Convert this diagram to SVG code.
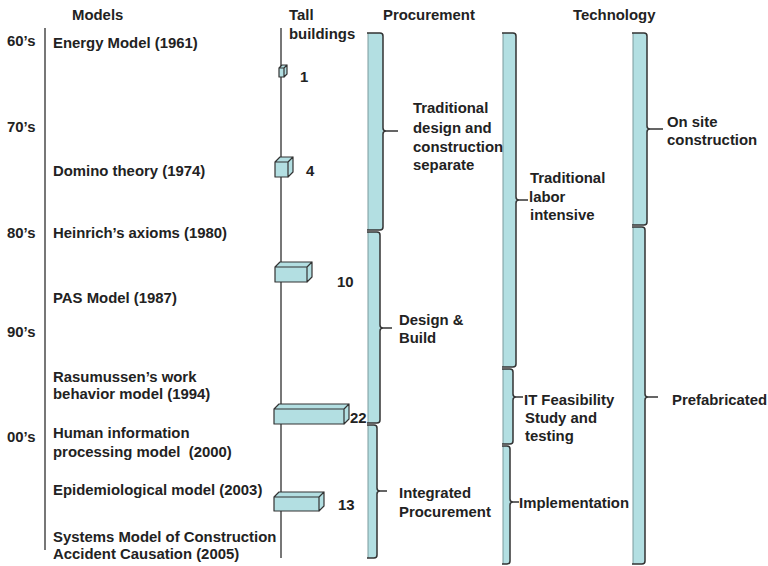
<svg xmlns="http://www.w3.org/2000/svg" width="768" height="566" viewBox="0 0 768 566">
<style>
text{font-family:"Liberation Sans",Arial,sans-serif;font-weight:bold;font-size:14.9px;fill:#222}
.axis{stroke:#555;stroke-width:1.6;fill:none}
.fill{fill:#b3dfe2;stroke:none}
.edge{stroke:#7a9a9c;stroke-width:1;fill:none}
.brace{stroke:#333;stroke-width:1.5;fill:none}
.box{fill:#b3dfe2;stroke:#333;stroke-width:1.2;stroke-linejoin:round}
</style>
<rect width="768" height="566" fill="#fff"/>

<g id="headers">
<text x="72" y="20">Models</text>
<text x="289" y="20">Tall</text>
<text x="289" y="39">buildings</text>
<text x="383" y="20">Procurement</text>
<text x="573" y="20">Technology</text>
</g>

<g id="decades">
<text x="7" y="46">60’s</text>
<text x="7" y="132">70’s</text>
<text x="7" y="238">80’s</text>
<text x="7" y="337">90’s</text>
<text x="7" y="442">00’s</text>
</g>

<g id="axes">
<line class="axis" x1="45" y1="28" x2="45" y2="550"/>
<line class="axis" x1="281" y1="28" x2="281" y2="558"/>
</g>

<g id="models">
<text x="53" y="48">Energy Model (1961)</text>
<text x="53" y="176">Domino theory (1974)</text>
<text x="53" y="238">Heinrich’s axioms (1980)</text>
<text x="53" y="303">PAS Model (1987)</text>
<text x="53" y="382">Rasumussen’s work</text>
<text x="53" y="399">behavior model (1994)</text>
<text x="53" y="438">Human information</text>
<text x="53" y="457" xml:space="preserve">processing model  (2000)</text>
<text x="53" y="495">Epidemiological model (2003)</text>
<text x="53" y="542">Systems Model of Construction</text>
<text x="53" y="559">Accident Causation (2005)</text>
</g>

<g id="buildings">
<g id="b1"><path class="box" d="M279,68 h5 v9 h-5 z M279,68 l3,-3 h5 l-3,3 z M284,68 l3,-3 v9 l-3,3 z"/><text x="300" y="82">1</text></g>
<g id="b4"><path class="box" d="M275,162 h13 v15 h-13 z M275,162 l5,-5 h13 l-5,5 z M288,162 l5,-5 v15 l-5,5 z"/><text x="306" y="176">4</text></g>
<g id="b10"><path class="box" d="M275,267 h32 v15 h-32 z M275,267 l5,-5 h32 l-5,5 z M307,267 l5,-5 v15 l-5,5 z"/><text x="337" y="287">10</text></g>
<g id="b22"><path class="box" d="M274,409 h70 v15 h-70 z M274,409 l5,-5 h70 l-5,5 z M344,409 l5,-5 v15 l-5,5 z"/><text x="350" y="423">22</text></g>
<g id="b13"><path class="box" d="M274,497 h45 v14 h-45 z M274,497 l5,-5 h45 l-5,5 z M319,497 l5,-5 v14 l-5,5 z"/><text x="338" y="510">13</text></g>
</g>

<g id="connectors">
<g id="proc1">
<rect class="fill" x="368" y="33" width="15" height="197"/>
<line class="edge" x1="368" y1="33" x2="368" y2="230"/>
<path class="brace" d="M367,33 H380 Q383,33 383,36 V128 Q383,131 386,131 H398 M386,131 Q383,131 383,134 V227 Q383,230 380,230 H367"/>
</g>
<g id="proc2">
<rect class="fill" x="368" y="232" width="12" height="191"/>
<line class="edge" x1="368" y1="232" x2="368" y2="423"/>
<path class="brace" d="M367,232 H377 Q380,232 380,235 V325 Q380,328 383,328 H392 M383,328 Q380,328 380,331 V420 Q380,423 377,423 H367"/>
</g>
<g id="proc3">
<rect class="fill" x="368" y="425" width="9" height="133"/>
<line class="edge" x1="368" y1="425" x2="368" y2="558"/>
<path class="brace" d="M367,425 H374 Q377,425 377,428 V488 Q377,491 380,491 H387 M380,491 Q377,491 377,494 V555 Q377,558 374,558 H367"/>
</g>
<g id="mid1">
<rect class="fill" x="503" y="33" width="13" height="334"/>
<line class="edge" x1="503" y1="33" x2="503" y2="367"/>
<path class="brace" d="M502,33 H513 Q516,33 516,36 V197 Q516,200 519,200 H528 M519,200 Q516,200 516,203 V364 Q516,367 513,367 H502"/>
</g>
<g id="mid2">
<rect class="fill" x="503" y="369" width="10" height="75"/>
<line class="edge" x1="503" y1="369" x2="503" y2="444"/>
<path class="brace" d="M502,369 H510 Q513,369 513,372 V394 Q513,397 516,397 H523 M516,397 Q513,397 513,400 V441 Q513,444 510,444 H502"/>
</g>
<g id="mid3">
<rect class="fill" x="503" y="446" width="7" height="118"/>
<line class="edge" x1="503" y1="446" x2="503" y2="564"/>
<path class="brace" d="M502,446 H507 Q510,446 510,449 V499 Q510,502 513,502 H519 M513,502 Q510,502 510,505 V561 Q510,564 507,564 H502"/>
</g>
<g id="tech1">
<rect class="fill" x="633" y="33" width="14" height="192"/>
<line class="edge" x1="633" y1="33" x2="633" y2="225"/>
<path class="brace" d="M632,33 H644 Q647,33 647,36 V126 Q647,129 650,129 H663 M650,129 Q647,129 647,132 V222 Q647,225 644,225 H632"/>
</g>
<g id="tech2">
<rect class="fill" x="633" y="227" width="12" height="337"/>
<line class="edge" x1="633" y1="227" x2="633" y2="564"/>
<path class="brace" d="M632,227 H642 Q645,227 645,230 V394 Q645,397 648,397 H658 M648,397 Q645,397 645,400 V561 Q645,564 642,564 H632"/>
</g>
</g>

<g id="labels">
<text x="413" y="113">Traditional</text>
<text x="413" y="133">design and</text>
<text x="413" y="152">construction</text>
<text x="413" y="170">separate</text>
<text x="399" y="325">Design &amp;</text>
<text x="399" y="343">Build</text>
<text x="399" y="498">Integrated</text>
<text x="399" y="517">Procurement</text>
<text x="530" y="183">Traditional</text>
<text x="529" y="202">labor</text>
<text x="530" y="220">intensive</text>
<text x="524" y="405">IT Feasibility</text>
<text x="525" y="423">Study and</text>
<text x="525" y="441">testing</text>
<text x="519" y="508">Implementation</text>
<text x="667" y="127">On site</text>
<text x="667" y="145">construction</text>
<text x="672" y="405">Prefabricated</text>
</g>
</svg>
